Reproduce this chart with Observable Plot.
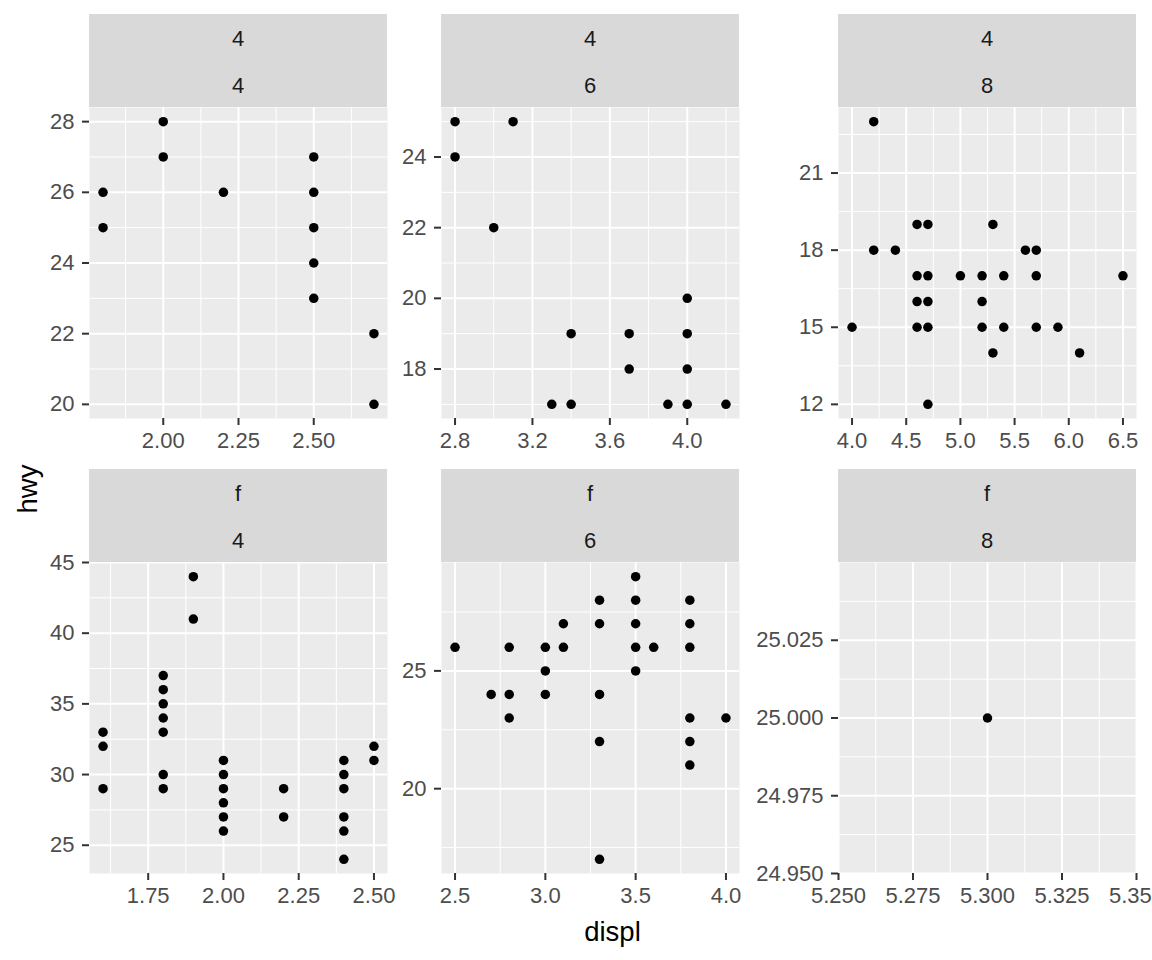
<!DOCTYPE html>
<html>
<head>
<meta charset="utf-8">
<script src="https://cdn.jsdelivr.net/npm/d3@7"></script>
<script src="https://cdn.jsdelivr.net/npm/@observablehq/plot@0.6"></script>
<style>
  html, body { margin: 0; padding: 0; background: #ffffff; overflow: hidden; }
  #chart { position: relative; width: 1152px; height: 960px; overflow: hidden; background: #ffffff;
           font-family: "Liberation Sans", Arial, sans-serif; }
  .panel { position: absolute; }
  .panel svg { overflow: visible; max-width: none; background: transparent; }
  .strip { position: absolute; background: #D9D9D9; }
  .strip span { position: absolute; left: 0; width: 100%; text-align: center; font-size: 22px;
                line-height: 22px; color: #1A1A1A; }
  .title { position: absolute; font-size: 27.5px; color: #000000; white-space: nowrap; line-height: 28px; }
</style>
</head>
<body>
<div id="chart"></div>
<script>
// ---- facet labels ----
const drvLabels = ["4", "4", "4", "f", "f", "f"];
const cylLabels = ["4", "6", "8", "4", "6", "8"];

// ---- data (displ, hwy) per facet ----
const displ_4_4 = [1.8, 1.8, 2.0, 2.0, 2.2, 2.5, 2.5, 2.5, 2.5, 2.5, 2.7, 2.7];
const hwy_4_4   = [26, 25, 28, 27, 26, 27, 26, 25, 24, 23, 22, 20];

const displ_4_6 = [2.8, 2.8, 3.1, 3.0, 3.4, 3.7, 4.0, 4.0, 3.7, 4.0, 3.3, 3.4, 3.9, 4.0, 4.2];
const hwy_4_6   = [25, 24, 25, 22, 19, 19, 20, 19, 18, 18, 17, 17, 17, 17, 17];

const displ_4_8 = [4.2, 4.6, 4.7, 5.3, 4.2, 4.4, 5.6, 5.7, 4.6, 4.7, 5.0, 5.2, 5.4, 5.7, 6.5,
                   4.6, 4.7, 5.2, 4.0, 4.6, 4.7, 5.2, 5.4, 5.7, 5.9, 5.3, 6.1, 4.7];
const hwy_4_8   = [23, 19, 19, 19, 18, 18, 18, 18, 17, 17, 17, 17, 17, 17, 17,
                   16, 16, 16, 15, 15, 15, 15, 15, 15, 15, 14, 14, 12];

const displ_f_4 = [1.6, 1.6, 1.6, 1.8, 1.8, 1.8, 1.8, 1.8, 1.8, 1.8, 1.9, 1.9,
                   2.0, 2.0, 2.0, 2.0, 2.0, 2.0, 2.2, 2.2, 2.4, 2.4, 2.4, 2.4, 2.4, 2.4, 2.5, 2.5];
const hwy_f_4   = [33, 32, 29, 37, 36, 35, 34, 33, 30, 29, 44, 41,
                   31, 30, 29, 28, 27, 26, 29, 27, 31, 30, 29, 27, 26, 24, 32, 31];

const displ_f_6 = [3.5, 3.3, 3.5, 3.8, 3.1, 3.3, 3.5, 3.8, 2.5, 2.8, 3.0, 3.1, 3.5, 3.6, 3.8,
                   3.0, 3.5, 2.7, 2.8, 3.0, 3.3, 2.8, 3.8, 4.0, 3.3, 3.8, 3.8, 3.3];
const hwy_f_6   = [29, 28, 28, 28, 27, 27, 27, 27, 26, 26, 26, 26, 26, 26, 26,
                   25, 25, 24, 24, 24, 24, 23, 23, 23, 22, 22, 21, 17];

const displ_f_8 = [5.3];
const hwy_f_8   = [25];

// ---- tick labels per facet ----
const xTickLabels_4_4 = ["2.00", "2.25", "2.50"];
const yTickLabels_4_4 = ["20", "22", "24", "26", "28"];
const xTickLabels_4_6 = ["2.8", "3.2", "3.6", "4.0"];
const yTickLabels_4_6 = ["18", "20", "22", "24"];
const xTickLabels_4_8 = ["4.0", "4.5", "5.0", "5.5", "6.0", "6.5"];
const yTickLabels_4_8 = ["12", "15", "18", "21"];
const xTickLabels_f_4 = ["1.75", "2.00", "2.25", "2.50"];
const yTickLabels_f_4 = ["25", "30", "35", "40", "45"];
const xTickLabels_f_6 = ["2.5", "3.0", "3.5", "4.0"];
const yTickLabels_f_6 = ["20", "25"];
const xTickLabels_f_8 = ["5.250", "5.275", "5.300", "5.325", "5.350"];
const yTickLabels_f_8 = ["24.950", "24.975", "25.000", "25.025"];

const facets = [
  {displ: displ_4_4, hwy: hwy_4_4, xl: xTickLabels_4_4, yl: yTickLabels_4_4},
  {displ: displ_4_6, hwy: hwy_4_6, xl: xTickLabels_4_6, yl: yTickLabels_4_6},
  {displ: displ_4_8, hwy: hwy_4_8, xl: xTickLabels_4_8, yl: yTickLabels_4_8},
  {displ: displ_f_4, hwy: hwy_f_4, xl: xTickLabels_f_4, yl: yTickLabels_f_4},
  {displ: displ_f_6, hwy: hwy_f_6, xl: xTickLabels_f_6, yl: yTickLabels_f_6},
  {displ: displ_f_8, hwy: hwy_f_8, xl: xTickLabels_f_8, yl: yTickLabels_f_8}
];

// ---- layout ----
const colLeft = [89, 441, 838];
const panelW = 298;
const rowTop = [107, 562];
const panelH = 311;
const stripTop = [14, 469];
const stripH = 93;
const M = {left: 90, right: 20, top: 10, bottom: 50};

function expand(vals) {
  const lo = d3.min(vals), hi = d3.max(vals);
  if (hi === lo) return [lo - 0.05, hi + 0.05];
  const pad = (hi - lo) * 0.05;
  return [lo - pad, hi + pad];
}
function minors(ticks, domain) {
  const step = ticks.length > 1 ? ticks[1] - ticks[0] : 1;
  const out = [];
  for (let k = -1; k <= ticks.length; k++) {
    const v = ticks[0] + step * k + step / 2;
    if (v >= domain[0] - 1e-9 && v <= domain[1] + 1e-9) out.push(v);
  }
  return out;
}

const chart = document.getElementById("chart");

facets.forEach((f, i) => {
  const col = i % 3, row = Math.floor(i / 3);
  const data = f.displ.map((d, j) => ({displ: d, hwy: f.hwy[j]}));
  const xTicks = f.xl.map(Number), yTicks = f.yl.map(Number);
  const xDom = expand(f.displ), yDom = expand(f.hwy);
  const xFmt = d => f.xl[xTicks.findIndex(t => Math.abs(t - d) < 1e-9)];
  const yFmt = d => f.yl[yTicks.findIndex(t => Math.abs(t - d) < 1e-9)];

  const plot = Plot.plot({
    width: M.left + panelW + M.right,
    height: M.top + panelH + M.bottom,
    marginLeft: M.left, marginRight: M.right, marginTop: M.top, marginBottom: M.bottom,
    style: {fontFamily: '"Liberation Sans", Arial, sans-serif', fontSize: "22px", background: "transparent", overflow: "visible"},
    x: {domain: xDom},
    y: {domain: yDom},
    marks: [
      Plot.frame({fill: "#EBEBEB", stroke: "none"}),
      Plot.gridX(minors(xTicks, xDom), {stroke: "#FFFFFF", strokeOpacity: 1, strokeWidth: 1}),
      Plot.gridY(minors(yTicks, yDom), {stroke: "#FFFFFF", strokeOpacity: 1, strokeWidth: 1}),
      Plot.gridX(xTicks, {stroke: "#FFFFFF", strokeOpacity: 1, strokeWidth: 2}),
      Plot.gridY(yTicks, {stroke: "#FFFFFF", strokeOpacity: 1, strokeWidth: 2}),
      Plot.dot(data, {x: "displ", y: "hwy", r: 4.75, fill: "#000000", stroke: "none"}),
      Plot.axisX({ticks: xTicks, tickFormat: xFmt, tickSize: 7, tickPadding: 7, stroke: "#333333",
                  strokeWidth: 2, fill: "#4D4D4D", label: null, fontSize: 22}),
      Plot.axisY({ticks: yTicks, tickFormat: yFmt, tickSize: 7, tickPadding: 8, stroke: "#333333",
                  strokeWidth: 2, fill: "#4D4D4D", label: null, fontSize: 22})
    ]
  });
  const wrap = document.createElement("div");
  wrap.className = "panel";
  wrap.style.left = (colLeft[col] - M.left) + "px";
  wrap.style.top = (rowTop[row] - M.top) + "px";
  wrap.appendChild(plot);
  chart.appendChild(wrap);

  const strip = document.createElement("div");
  strip.className = "strip";
  strip.style.left = colLeft[col] + "px";
  strip.style.top = stripTop[row] + "px";
  strip.style.width = panelW + "px";
  strip.style.height = stripH + "px";
  const s1 = document.createElement("span");
  s1.textContent = drvLabels[i];
  s1.style.top = (25 - 11) + "px";
  const s2 = document.createElement("span");
  s2.textContent = cylLabels[i];
  s2.style.top = (71.5 - 11) + "px";
  strip.appendChild(s1); strip.appendChild(s2);
  chart.appendChild(strip);
});

// axis titles
const xt = document.createElement("div");
xt.className = "title";
xt.textContent = "displ";
xt.style.left = "0px"; xt.style.width = "1225px"; xt.style.textAlign = "center";
xt.style.top = (932 - 14) + "px";
chart.appendChild(xt);

const yt = document.createElement("div");
yt.className = "title";
yt.textContent = "hwy";
yt.style.width = "100px"; yt.style.textAlign = "center";
yt.style.left = (28 - 50) + "px";
yt.style.top = (489 - 14) + "px";
yt.style.transform = "rotate(-90deg)";
chart.appendChild(yt);
</script>
</body>
</html>
